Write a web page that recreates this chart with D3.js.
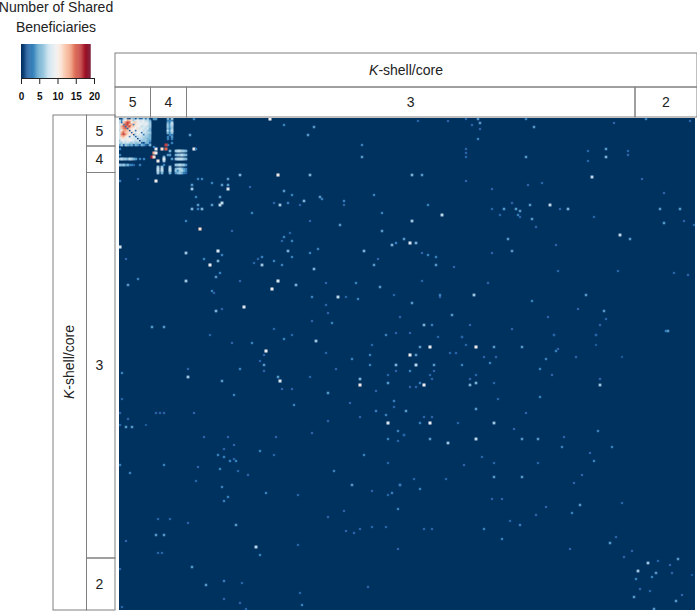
<!DOCTYPE html>
<html>
<head>
<meta charset="utf-8">
<script src="https://cdn.jsdelivr.net/npm/d3@7"></script>
<style>
  html, body { margin: 0; padding: 0; background: #fff; }
  svg { display: block; font-family: "Liberation Sans", Arial, sans-serif; }
</style>
</head>
<body>
<svg width="697" height="612"></svg>
<script>
const shells = ['5', '4', '3', '2'];
const legendTicks = [0, 5, 10, 15, 20];
const MAX_SHARED = 19;
const COL_COUNT = 288;
const ROW_COUNT = 246;

// core block, one row per list, starts at row 0 / col 0
const coreBlock = [
    [1,1,6,7,2,1,6,5,1,6,2,2,6,2,6,1],
    [7,3,8,10,13,12,11,6,8,10,8,8,9,7,7,5],
    [7,2,12,14,16,15,9,11,12,9,9,8,9,8,8,6],
    [8,11,3,15,16,13,13,3,11,10,9,9,8,9,8,6],
    [8,13,15,2,14,16,12,12,9,10,9,7,8,8,7,6],
    [8,12,14,15,2,12,11,10,9,11,8,8,8,7,8,5],
    [7,10,13,13,12,1,10,9,2,10,8,9,7,8,6,5],
    [9,13,15,12,12,10,2,11,8,9,9,2,8,7,7,6],
    [8,14,16,14,11,9,11,1,7,10,8,8,3,7,6,5],
    [8,12,13,11,10,3,9,8,2,7,8,7,7,6,6,5],
    [8,10,11,9,9,10,8,8,8,1,7,7,6,6,5,5],
    [6,9,9,8,10,9,9,8,7,8,1,6,6,6,5,4],
    [7,6,8,7,8,7,6,7,6,6,7,2,1,5,5,2],
    [4,6,2,6,5,4,5,2,5,4,2,5,4,2,1,5]
];

// [row, first col, values] runs going across
const rowRuns = [
    [20, 0, [6,7,6,6,5,7,6,5,4,0,3,0,3]],
    [23, 0, [6,5,6,4,5,3,3,2,0,0,3]],
    [16, 28, [6,7,7,6,6,5]],
    [18, 28, [5,6,6,7,6,5]],
    [20, 28, [6,7,7,7,6,5]],
    [23, 28, [6,6,7,6,6,4]],
    [25, 28, [5,6,7,6,4,3]],
    [26, 28, [6,3,6,7,5,3]],
    [27, 28, [4,5,6,5,3,2]]
];

// [col, first row, values] runs going down
const colRuns = [
    [24, 0, [5,3,5,6,6,5,7,5,0,3,3,0,0,3]],
    [25, 0, [0,3,3,4,4,3,4,3,3,0,0,0,0,0]],
    [26, 0, [6,3,7,7,6,6,7,6,3,4,3,0,3,0]],
    [19, 24, [6,7,7,6]],
    [21, 24, [6,7,7,5]],
    [25, 24, [6,7,7,5]]
];

// single pairs: [row, col, shared beneficiaries]
const fourShellPairs = [
    [13,23,16],[15,18,9],[15,21,11],[15,23,15],[17,17,13],[17,18,9],[19,16,17],[19,17,11],
    [21,19,10],[21,22,6],[16,25,5],[18,25,4],[19,22,5],[14,17,3],[20,22,8],[18,24,4],
    [20,26,4],[23,22,3],[15,0,3],[18,0,3],[0,17,4],[0,18,4],[31,18,9],[15,37,9],[8,35,4],
    [0,37,3],[31,0,3],[30,9,2]
];
const upperPairs = [
    [30,39,3],[30,41,3],[30,54,4],[28,60,5],[28,79,10],[28,95,5],[28,146,5],[28,151,4],
    [32,46,3],[33,36,4],[35,36,6],[33,51,4],[33,54,4],[35,54,8],[34,65,2],[36,82,4],
    [38,86,3],[39,38,3],[39,50,4],[39,100,4],[40,101,3],[38,127,3],[41,92,5],[42,77,2],
    [42,84,3],[41,112,3],[43,39,4],[43,46,4],[42,51,7],[43,50,7],[43,80,6],[43,90,2],
    [43,112,2],[43,154,3],[45,36,5],[45,39,3],[45,41,5],[47,66,3],[47,131,3],[51,33,3],
    [51,95,2],[51,146,6],[53,110,4],[55,40,11],[56,56,2],[56,131,4],[57,85,2],[59,82,3],
    [60,142,4],[61,86,3],[61,81,2],[62,138,3],[62,145,8],[62,148,5],[63,136,5],[65,99,3],
    [66,49,8],[66,84,5],[66,122,5],[67,33,6],[67,95,3],[68,51,3],[67,151,2],[68,154,3],
    [69,158,3],[69,71,3],[69,86,3],[70,42,3],[70,69,2],[70,129,2],[71,49,5],[71,77,3],
    [72,67,2],[73,45,9],[73,71,6],[73,81,3],[73,127,4],[73,158,4],[75,97,5],[77,50,3],
    [79,48,4],[81,33,6],[81,60,2],[81,79,8],[82,103,2],[82,118,3],[81,151,2],[83,88,5],
    [84,130,4],[85,76,9],[86,46,3],[87,47,2],[88,137,2],[89,96,3],[89,109,7],[89,113,2],
    [90,119,3],[89,160,2],[92,146,4],[94,62,8],[93,103,2],[95,51,2],[96,48,5],[97,104,2],
    [99,140,2],[101,96,2],[102,106,3],[103,152,5],[103,156,3],[105,77,2],
    [0,75,9],[3,82,3],[4,97,4],[8,94,4],[1,149,2],[13,121,3],[19,121,4],[15,38,3],
    [104,16,4],[104,22,4],[83,4,4],[80,9,3],[70,3,2],[64,0,8]
];
const rightPairs = [
    [1,164,2],[0,173,2],[0,179,4],[2,180,4],[3,176,2],[5,180,2],[10,179,3],[0,203,3],
    [4,207,4],[2,247,2],[0,263,3],[1,285,2],[15,173,2],[17,173,2],[19,173,2],[19,203,4],
    [16,234,2],[15,243,4],[19,243,5],[16,254,2],[18,254,2],[21,234,2],[29,236,7],[30,261,2],
    [31,173,2],[32,211,2],[33,204,2],[35,186,2],[37,272,2],[42,196,2],[43,205,4],[43,215,7],
    [45,192,4],[45,198,4],[45,186,2],[45,220,2],[45,224,5],[45,270,4],[45,280,4],[46,200,4],
    [48,161,7],[48,190,2],[48,199,3],[49,200,2],[49,237,2],[50,206,4],[51,282,2],[52,272,4],
    [53,287,2],[54,208,2],[58,250,7],[60,255,4],[60,194,4],[63,218,2],[66,196,4],[67,186,2],
    [74,167,2],[76,219,2],[76,249,2],[77,277,2],[78,284,2],[82,184,2],[88,160,3],[88,177,6],
    [88,233,4],[91,206,3],[95,229,2],[96,242,4],[98,166,4],[99,214,2],[100,243,2],[103,175,2],
    [103,240,2],[105,196,2],[106,274,4],[108,217,2],[108,238,2],[109,171,2]
];
const lowerLeftPairs = [
    [108,45,2],[112,56,2],[112,66,3],[110,82,3],[108,86,2],[111,98,6],[108,133,3],[107,138,2],
    [113,126,2],[116,73,9],[117,103,2],[118,125,3],[118,72,2],[121,70,2],[120,116,3],[123,72,4],
    [125,34,2],[125,60,3],[125,108,2],[123,125,3],[123,138,5],[126,72,2],[126,138,2],[127,1,3],
    [129,34,6],[129,79,4],[129,95,2],[130,120,5],[128,134,2],[131,51,4],[131,80,8],[132,134,4],
    [133,120,10],[135,81,2],[135,86,2],[137,104,4],[136,128,2],[138,57,3],[140,1,2],[141,137,3],
    [142,115,2],[143,87,3],[144,137,2],[146,128,3],[147,18,2],[147,20,2],[147,22,2],[147,37,2],
    [147,0,2],[148,133,3],[149,120,2],[150,4,2],[151,104,2],[152,134,8],[153,0,2],[154,3,4],
    [154,6,4],[153,13,1.5],[156,139,3],[157,96,2],[158,142,3],[159,42,2],[159,54,2],[159,78,2],
    [160,134,3],[161,139,2],[163,57,2],[165,52,2],[166,70,3],[168,49,3],[168,77,2],[168,122,3],
    [169,52,3],[170,57,2],[171,55,3],[171,58,3],[172,134,2],[173,0,3],[173,22,3],[174,39,2],
    [175,50,3],[176,59,2],[176,107,3],[177,5,3],[178,64,2],[181,38,2],[183,116,4],[183,140,3],
    [184,51,3],[186,126,2],[187,73,3],[187,136,3],[188,134,2],[188,89,2],[189,54,3],[191,52,3],
    [195,139,3],[196,112,2],[199,104,2],[200,19,2],[200,25,2],[202,34,2],[203,58,4],[204,126,2],
    [204,133,2],[205,120,2],[206,113,2],[207,117,2],[208,18,4],[208,22,4],[211,3,2],[213,89,2],
    [214,68,7],[215,139,2],[217,19,2],[217,21,2],[218,70,3],[224,36,4],[225,0,2],[231,52,3],
    [232,61,2],[233,43,4],[234,124,2],[237,90,2],[240,52,2],[242,60,2],[243,91,3],[244,1,2],[245,63,2]
];
const lowerRightPairs = [
    [107,145,2],[109,159,2],[109,171,2],[108,217,2],[108,238,2],[106,273,3],[114,150,4],[114,155,9],
    [113,173,2],[114,178,9],[114,187,4],[114,201,4],[113,238,1.5],[116,218,3],[115,219,2],[118,145,9],
    [118,148,4],[117,165,2],[117,168,2],[119,182,2],[119,188,2],[120,213,3],[119,228,2],[119,251,1.5],
    [122,185,3],[123,171,3],[123,148,7],[123,157,4],[125,210,3],[126,145,3],[126,157,2],[128,155,2],
    [128,178,2],[128,216,2],[130,156,2],[130,175,2],[130,240,2],[132,150,3],[132,178,5],[132,187,2],
    [133,152,9],[133,175,5],[133,240,6],[134,145,2],[134,148,2],[140,189,2],[139,210,3],[145,178,4],
    [146,143,4],[147,203,2],[149,152,2],[149,156,2],[152,150,3],[152,155,9],[152,169,2],[152,187,6],
    [155,197,2],[156,239,3],[158,142,2],[159,222,2],[160,155,4],[162,164,6],[160,178,7],[160,201,4],
    [160,209,4],[164,221,3],[164,246,3],[167,235,2],[169,181,2],[171,237,3],[173,172,2],[172,187,2],
    [172,209,2],[178,231,2],[179,187,4],[179,201,4],[180,147,2],[180,163,2],[182,227,2],[183,140,3],
    [185,150,3],[190,191,2],[190,186,2],[192,251,2],[193,230,4],[194,213,2],[197,226,3],[198,208,2],
    [201,195,2],[203,200,3],[205,182,3],[205,152,2],[205,156,2],[209,248,2],[210,191,3],[212,245,4],
    [215,225,2],[216,256,2],[219,252,2],[222,264,6],[221,269,2],[220,279,4],[223,275,2],[226,259,6],
    [227,276,2],[227,268,4],[228,286,1.5],[230,258,3],[229,266,3],[235,260,2],[236,265,2],[238,281,2],
    [239,257,4],[241,278,4],[245,267,4]
];

// frame layout
const PLOT = { left: 119, right: 695, top: 118, bottom: 610 };
const HEAD_X = [115, 150.5, 186.5, 635, 697];
const HEAD_TOP = 53, HEAD_MID = 87, HEAD_BOTTOM = 117;
const SIDE_Y = [115, 146, 172.5, 558, 610];
const SIDE_LEFT = 53, SIDE_MID = 86.5, SIDE_RIGHT = 115;
const FRAME_COLOR = '#808080';

const svg = d3.select('svg');

const x = d3.scaleBand().domain(d3.range(COL_COUNT)).range([PLOT.left, PLOT.right]);
const y = d3.scaleBand().domain(d3.range(ROW_COUNT)).range([PLOT.top, PLOT.bottom]);
const color = (v) => d3.interpolateRdBu(1 - v / MAX_SHARED);
// the source is a blurry raster, stronger cells bleed a bit further
const cellSize = (v) => x.bandwidth() + Math.min(v, 8) * 0.13;

// flatten everything to { row, col, value }
let cells = [];
coreBlock.forEach((vals, r) => vals.forEach((v, c) => cells.push({ row: r, col: c, value: v })));
rowRuns.forEach(([r, c0, vals]) => vals.forEach((v, i) => cells.push({ row: r, col: c0 + i, value: v })));
colRuns.forEach(([c, r0, vals]) => vals.forEach((v, i) => cells.push({ row: r0 + i, col: c, value: v })));
[fourShellPairs, upperPairs, rightPairs, lowerLeftPairs, lowerRightPairs].forEach((list) => {
    list.forEach(([r, c, v]) => cells.push({ row: r, col: c, value: v }));
});
cells = cells.filter((d) => d.value > 0);

const defs = svg.append('defs');
defs.append('filter').attr('id', 'soft')
    .attr('x', '-1%').attr('y', '-1%').attr('width', '102%').attr('height', '102%')
    .append('feGaussianBlur').attr('stdDeviation', 0.6);
defs.append('clipPath').attr('id', 'plotClip').append('rect')
    .attr('x', PLOT.left).attr('y', PLOT.top)
    .attr('width', PLOT.right - PLOT.left).attr('height', PLOT.bottom - PLOT.top);

// heat map
const heat = svg.append('g').attr('clip-path', 'url(#plotClip)').append('g').attr('filter', 'url(#soft)');
heat.append('rect')
    .attr('x', PLOT.left - 2).attr('y', PLOT.top - 2)
    .attr('width', PLOT.right - PLOT.left + 4).attr('height', PLOT.bottom - PLOT.top + 4)
    .attr('fill', color(0));
heat.selectAll('.cell')
    .data(cells)
    .enter()
    .append('rect')
    .classed('cell', true)
    .attr('x', (d) => x(d.col) + (x.bandwidth() - cellSize(d.value)) / 2)
    .attr('y', (d) => y(d.row) + (y.bandwidth() - cellSize(d.value)) / 2)
    .attr('width', (d) => cellSize(d.value))
    .attr('height', (d) => cellSize(d.value))
    .attr('fill', (d) => color(d.value));

// frame boxes
function box(g, x0, y0, x1, y1) {
    g.append('rect').attr('x', x0).attr('y', y0).attr('width', x1 - x0).attr('height', y1 - y0)
        .attr('fill', 'none').attr('stroke', FRAME_COLOR).attr('stroke-width', 1);
}
function shellTitle(g, tx, ty, rotate) {
    const t = g.append('text').attr('text-anchor', 'middle').attr('font-size', 14).attr('fill', '#222');
    if (rotate) t.attr('transform', `translate(${tx},${ty}) rotate(-90)`);
    else t.attr('x', tx).attr('y', ty);
    t.append('tspan').attr('font-style', 'italic').text('K');
    t.append('tspan').text('-shell/core');
}

const frame = svg.append('g');
box(frame, HEAD_X[0], HEAD_TOP, HEAD_X[4], HEAD_MID);
box(frame, SIDE_LEFT, SIDE_Y[0], SIDE_MID, SIDE_Y[4]);
shells.forEach((s, i) => {
    box(frame, HEAD_X[i], HEAD_MID, HEAD_X[i + 1], HEAD_BOTTOM);
    box(frame, SIDE_MID, SIDE_Y[i], SIDE_RIGHT, SIDE_Y[i + 1]);
    frame.append('text').attr('x', (HEAD_X[i] + HEAD_X[i + 1]) / 2).attr('y', 107)
        .attr('text-anchor', 'middle').attr('font-size', 14).attr('fill', '#222').text(s);
    frame.append('text').attr('x', 99.5).attr('y', (SIDE_Y[i] + SIDE_Y[i + 1]) / 2 + 5)
        .attr('text-anchor', 'middle').attr('font-size', 14).attr('fill', '#222').text(s);
});
shellTitle(frame, 406, 75, false);
shellTitle(frame, 74, 362, true);

// legend
const legend = svg.append('g');
const legendX = d3.scaleLinear().domain([0, 20]).range([21, 94]);
legend.selectAll('.swatch')
    .data(d3.range(0, MAX_SHARED, 0.25))
    .enter()
    .append('rect')
    .classed('swatch', true)
    .attr('x', (d) => legendX(d))
    .attr('y', 44)
    .attr('width', legendX(0.25) - legendX(0) + 0.3)
    .attr('height', 34)
    .attr('fill', (d) => color(d));
const legendAxis = legend.append('g')
    .attr('transform', 'translate(0,78)')
    .call(d3.axisBottom(legendX).tickValues(legendTicks).tickSize(6).tickPadding(9));
legendAxis.selectAll('text').attr('font-size', 10).attr('font-family', '"Liberation Sans", Arial, sans-serif')
    .attr('fill', '#111').attr('font-weight', 'bold').attr('stroke', 'none');
legendAxis.selectAll('path, line').attr('stroke', '#222');

legend.append('text').attr('x', 56).attr('y', 12).attr('text-anchor', 'middle')
    .attr('font-size', 14).attr('fill', '#222').text('Number of Shared');
legend.append('text').attr('x', 56).attr('y', 32).attr('text-anchor', 'middle')
    .attr('font-size', 14).attr('fill', '#222').text('Beneficiaries');
</script>
</body>
</html>
